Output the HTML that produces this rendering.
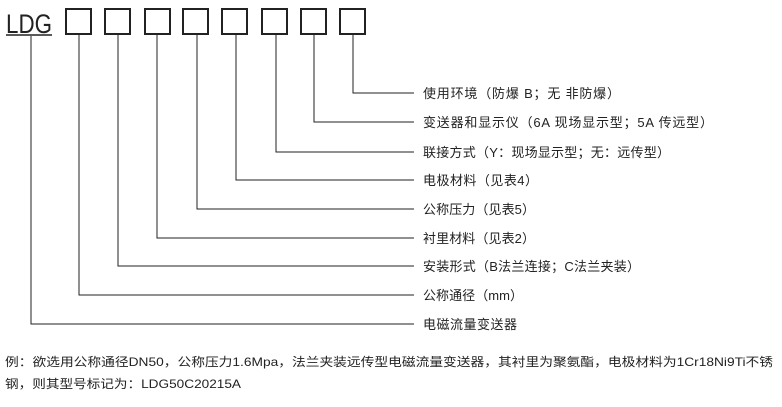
<!DOCTYPE html>
<html><head><meta charset="utf-8"><style>
body{margin:0;width:782px;height:407px;background:#fff;overflow:hidden;font-family:"Liberation Sans","Noto Sans CJK SC",sans-serif;color:#222}
</style></head><body>
<svg width="782" height="407" xmlns="http://www.w3.org/2000/svg" style="position:absolute;left:0;top:0">
<text x="6" y="33" font-family="Liberation Sans Narrow, Liberation Sans, sans-serif" font-size="27" fill="#222" textLength="46" lengthAdjust="spacingAndGlyphs">LDG</text>
<line x1="6" y1="35" x2="52" y2="35" stroke="#222" stroke-width="1.5"/>
<g fill="none" stroke="#222" stroke-width="2">
<rect x="66" y="9" width="25" height="25"/>
<rect x="105" y="9" width="25" height="25"/>
<rect x="145" y="9" width="25" height="25"/>
<rect x="183" y="9" width="25" height="25"/>
<rect x="222" y="9" width="25" height="25"/>
<rect x="262" y="9" width="25" height="25"/>
<rect x="301" y="9" width="25" height="25"/>
<rect x="340" y="9" width="25" height="25"/>
</g>
<g stroke="#222" stroke-width="1" fill="none">
<polyline points="353,35 353,93 414,93"/>
<polyline points="314,35 314,122 414,122"/>
<polyline points="276,35 276,152 414,152"/>
<polyline points="236,35 236,180 414,180"/>
<polyline points="197,35 197,209 414,209"/>
<polyline points="157,35 157,238 414,238"/>
<polyline points="118,35 118,266 414,266"/>
<polyline points="79,35 79,295 414,295"/>
<polyline points="31,36 31,324 414,324"/>
</g>
<g font-size="13" fill="#222" lengthAdjust="spacing">
<text x="423" y="98" textLength="197">使用环境（防爆  B；无  非防爆）</text>
<text x="423" y="127" textLength="290">变送器和显示仪（6A  现场显示型；5A  传远型）</text>
<text x="423" y="157" textLength="247">联接方式（Y：现场显示型；无：远传型）</text>
<text x="423" y="185" textLength="115">电极材料（见表4）</text>
<text x="423" y="214" textLength="112">公称压力（见表5）</text>
<text x="423" y="243" textLength="112">衬里材料（见表2）</text>
<text x="423" y="271" textLength="217">安装形式（B法兰连接；C法兰夹装）</text>
<text x="423" y="300" textLength="100">公称通径（mm）</text>
<text x="423" y="329" textLength="94">电磁流量变送器</text>
</g>
<g font-size="12" fill="#222">
<text x="5" y="366" textLength="768" lengthAdjust="spacingAndGlyphs">例：欲选用公称通径DN50，公称压力1.6Mpa，法兰夹装远传型电磁流量变送器，其衬里为聚氨酯，电极材料为1Cr18Ni9Ti不锈</text>
<text x="5" y="388" textLength="236" lengthAdjust="spacingAndGlyphs">钢，则其型号标记为：LDG50C20215A</text>
</g>
</svg>
</body></html>
